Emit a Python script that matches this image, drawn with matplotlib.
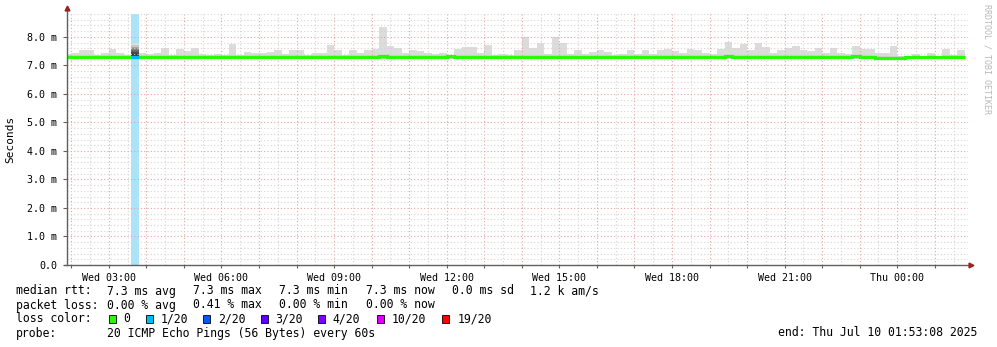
import matplotlib
matplotlib.use("Agg")
import matplotlib.pyplot as plt
import numpy as np
from matplotlib.patches import Rectangle

# ---------------- data ----------------
start_hour = 1 + 53 / 60 + 8 / 3600      # Wed 01:53:08 (hours since Wed 00:00)
span_hours = 24
first_bin_hour = 1.8                      # 12-minute RRD bins
bin_hours = 0.2

smoke_top = [
    7.39, 7.45, 7.54, 7.54, 7.37, 7.45, 7.59, 7.45, 7.37, 7.78,
    7.43, 7.39, 7.45, 7.61, 7.37, 7.59, 7.51, 7.61, 7.40, 7.37,
    7.40, 7.35, 7.75, 7.35, 7.47, 7.45, 7.45, 7.47, 7.54, 7.40,
    7.54, 7.54, 7.37, 7.45, 7.45, 7.72, 7.54, 7.37, 7.54, 7.45,
    7.54, 7.59, 8.36, 7.68, 7.61, 7.43, 7.54, 7.49, 7.45, 7.39,
    7.45, 7.37, 7.56, 7.65, 7.65, 7.45, 7.72, 7.37, 7.40, 7.37,
    7.54, 8.01, 7.61, 7.80, 7.39, 7.98, 7.80, 7.39, 7.54, 7.39,
    7.47, 7.54, 7.47, 7.37, 7.39, 7.54, 7.39, 7.54, 7.39, 7.54,
    7.59, 7.51, 7.43, 7.59, 7.54, 7.43, 7.39, 7.58, 7.82, 7.61,
    7.75, 7.54, 7.80, 7.65, 7.43, 7.54, 7.61, 7.68, 7.54, 7.49,
    7.61, 7.43, 7.61, 7.43, 7.40, 7.68, 7.59, 7.56, 7.43, 7.43,
    7.68, 7.33, 7.33, 7.39, 7.33, 7.43, 7.33, 7.59, 7.37, 7.54,
]
smoke_floor = 7.22

median_rtt = [
    7.28, 7.28, 7.28, 7.28, 7.28, 7.28, 7.28, 7.28, 7.28, 7.28,
    7.28, 7.28, 7.28, 7.28, 7.28, 7.28, 7.28, 7.28, 7.28, 7.28,
    7.28, 7.28, 7.28, 7.28, 7.28, 7.28, 7.28, 7.28, 7.28, 7.28,
    7.28, 7.28, 7.28, 7.28, 7.28, 7.28, 7.28, 7.28, 7.28, 7.28,
    7.28, 7.28, 7.31, 7.28, 7.28, 7.28, 7.28, 7.28, 7.28, 7.28,
    7.28, 7.31, 7.28, 7.28, 7.28, 7.28, 7.28, 7.28, 7.28, 7.29,
    7.28, 7.28, 7.28, 7.28, 7.28, 7.29, 7.28, 7.28, 7.28, 7.28,
    7.28, 7.28, 7.28, 7.28, 7.28, 7.28, 7.28, 7.28, 7.28, 7.28,
    7.28, 7.28, 7.28, 7.28, 7.28, 7.28, 7.28, 7.28, 7.31, 7.28,
    7.28, 7.28, 7.28, 7.28, 7.28, 7.28, 7.28, 7.28, 7.28, 7.28,
    7.28, 7.30, 7.29, 7.28, 7.28, 7.31, 7.28, 7.28, 7.27, 7.27,
    7.27, 7.27, 7.28, 7.30, 7.28, 7.30, 7.30, 7.30, 7.30, 7.30,
]
loss_count = [0] * 120
loss_count[9] = 1   # 1/20 lost in that bin

xtick_hours = [3, 6, 9, 12, 15, 18, 21, 24]
xtick_labels = ["Wed 03:00", "Wed 06:00", "Wed 09:00", "Wed 12:00",
                "Wed 15:00", "Wed 18:00", "Wed 21:00", "Thu 00:00"]
ytick_vals = [0, 1, 2, 3, 4, 5, 6, 7, 8]
ytick_labels = ["0.0", "1.0 m", "2.0 m", "3.0 m", "4.0 m", "5.0 m",
                "6.0 m", "7.0 m", "8.0 m"]
y_max = 8.8

loss_levels = ["0", "1/20", "2/20", "3/20", "4/20", "10/20", "19/20"]
loss_colors = ["#26ff00", "#00b8ff", "#0059ff", "#5e00ff", "#7e00ff", "#dd00ff", "#ff0000"]

row1 = ["median rtt:", "7.3 ms avg", "7.3 ms max", "7.3 ms min", "7.3 ms now",
        "0.0 ms sd", "1.2 k am/s"]
row2 = ["packet loss:", "0.00 % avg", "0.41 % max", "0.00 % min", "0.00 % now"]
probe_text = "20 ICMP Echo Pings (56 Bytes) every 60s"
end_text = "end: Thu Jul 10 01:53:08 2025"

# ---------------- figure ----------------
W, H = 997, 347
MONO = "DejaVu Sans Mono"
fig = plt.figure(figsize=(W / 100, H / 100), dpi=100)
fig.patch.set_facecolor("white")

def fx(px):
    return px / W

def fy(py):
    return 1 - py / H

L, R, T, B = 67, 968, 14, 265
ax = fig.add_axes([fx(L), fy(B), (R - L) / W, (B - T) / H])
ax.set_xlim(start_hour, start_hour + span_hours)
ax.set_ylim(0, y_max)
for s in ax.spines.values():
    s.set_visible(False)

edges = first_bin_hour + bin_hours * np.arange(len(smoke_top) + 1)
left_edges = edges[:-1]
top = np.array(smoke_top)
med = np.array(median_rtt)
loss = np.array(loss_count)

# loss background bars
for i in np.nonzero(loss)[0]:
    ax.bar(left_edges[i], y_max, width=bin_hours, bottom=0, align="edge",
           color="#a8e4fa", linewidth=0, zorder=1)

# smoke
normal = loss == 0
ax.bar(left_edges[normal], top[normal] - smoke_floor, width=bin_hours,
       bottom=smoke_floor, align="edge", color="#dcdcdc", linewidth=0, zorder=2)
ax.bar(left_edges[normal], np.minimum(top[normal], med[normal] + 0.07) - smoke_floor,
       width=bin_hours, bottom=smoke_floor, align="edge", color="#d2d2d2",
       linewidth=0, zorder=2)
# lossy bins: graded smoke
greys = ["#e0e0e0", "#c8c8c8", "#a8a8a8", "#888888", "#686868", "#484848", "#303030"]
for i in np.nonzero(loss)[0]:
    n = len(greys)
    for j, g in enumerate(greys):
        t = med[i] + (top[i] - med[i]) * (1 - j / (n + 1))
        ax.bar(left_edges[i], t - (med[i] - 0.05), width=bin_hours,
               bottom=med[i] - 0.05, align="edge", color=g, linewidth=0, zorder=2)

# grid (drawn over smoke, like rrdtool)
minor_style = dict(color="#d4d4d4", lw=0.8, ls=(0, (1, 2)), zorder=3)
major_style = dict(color="#e8a4a4", lw=0.8, ls=(0, (1, 2)), zorder=3)
for h in np.arange(2.0, 26.0, 0.5):
    if start_hour < h < start_hour + span_hours:
        if abs(h - round(h)) < 1e-6:
            ax.axvline(h, **major_style)
        else:
            ax.axvline(h, **minor_style)
for v in np.arange(0.2, y_max + 0.01, 0.2):
    if abs(v - round(v)) < 1e-6:
        ax.axhline(v, **major_style)
    else:
        ax.axhline(v, **minor_style)

# median line
ax.stairs(med, edges, baseline=None, color=loss_colors[0], lw=2.3, zorder=4)
for i in np.nonzero(loss)[0]:
    ax.plot([edges[i], edges[i + 1]], [med[i], med[i]], color=loss_colors[loss[i]],
            lw=2.3, solid_capstyle="butt", zorder=5)

# axes lines with arrows
axis_col = "#606060"
arrow_col = "#a02020"
ax.plot([0, 0], [0, 1.015], transform=ax.transAxes, color=axis_col, lw=1.0,
        clip_on=False, zorder=6)
ax.plot([-0.003, 1.0], [0, 0], transform=ax.transAxes, color=axis_col, lw=1.0,
        clip_on=False, zorder=6)
ax.plot([0], [1.022], marker="^", ms=3.5, color=arrow_col, transform=ax.transAxes,
        clip_on=False, zorder=7)
ax.plot([1.003], [0], marker=">", ms=3.5, color=arrow_col, transform=ax.transAxes,
        clip_on=False, zorder=7)

# ticks
ax.set_xticks(xtick_hours)
ax.set_xticklabels(xtick_labels, fontsize=7.2, family=MONO)
ax.set_xticks(np.arange(2, 26, 1), minor=True)
ax.tick_params(axis="x", which="both", length=2.5, width=0.8, color=axis_col,
               pad=3.5, direction="out")
ax.set_yticks(ytick_vals)
ax.set_yticklabels(ytick_labels, fontsize=7.2, family=MONO)
ax.tick_params(axis="y", length=3, width=0.8, color=axis_col, pad=4, direction="out")
ax.set_yticks([], minor=True)

# y label & watermark
fig.text(fx(10), fy(139), "Seconds", rotation=90, ha="center", va="center",
         fontsize=8.0, family=MONO)
fig.text(fx(987), fy(4), "RRDTOOL / TOBI OETIKER", rotation=270, ha="center", va="top",
         fontsize=6.0, family=MONO, color="#b8b8b8")

# legend rows
FS = 8.3
def t(x, y, s, **kw):
    fig.text(fx(x), fy(y), s, ha="left", va="center", fontsize=FS, family=MONO, **kw)

row1_x = [16, 107, 193, 279, 365.5, 451.5, 530.5]
for x, s in zip(row1_x, row1):
    t(x, 291, s)
row2_x = [16, 107, 193, 279, 365.5]
for x, s in zip(row2_x, row2):
    t(x, 305, s)

t(16, 319, "loss color:")
box_x = [108.7, 145.7, 203.3, 260.7, 318.3, 376.7, 442.3]
text_x = [123.3, 160.3, 218, 275.3, 332.7, 391.3, 457.3]
for bx, tx, lab, col in zip(box_x, text_x, loss_levels, loss_colors):
    fig.patches.append(Rectangle((fx(bx), fy(323)), 7 / W, 8 / H, transform=fig.transFigure,
                                 facecolor=col, edgecolor="black", lw=0.6, figure=fig))
    t(tx, 319, lab)

t(16, 333, "probe:")
t(107, 333, probe_text)
t(778, 333, end_text)

fig.savefig("out.png", dpi=100, facecolor="white")
